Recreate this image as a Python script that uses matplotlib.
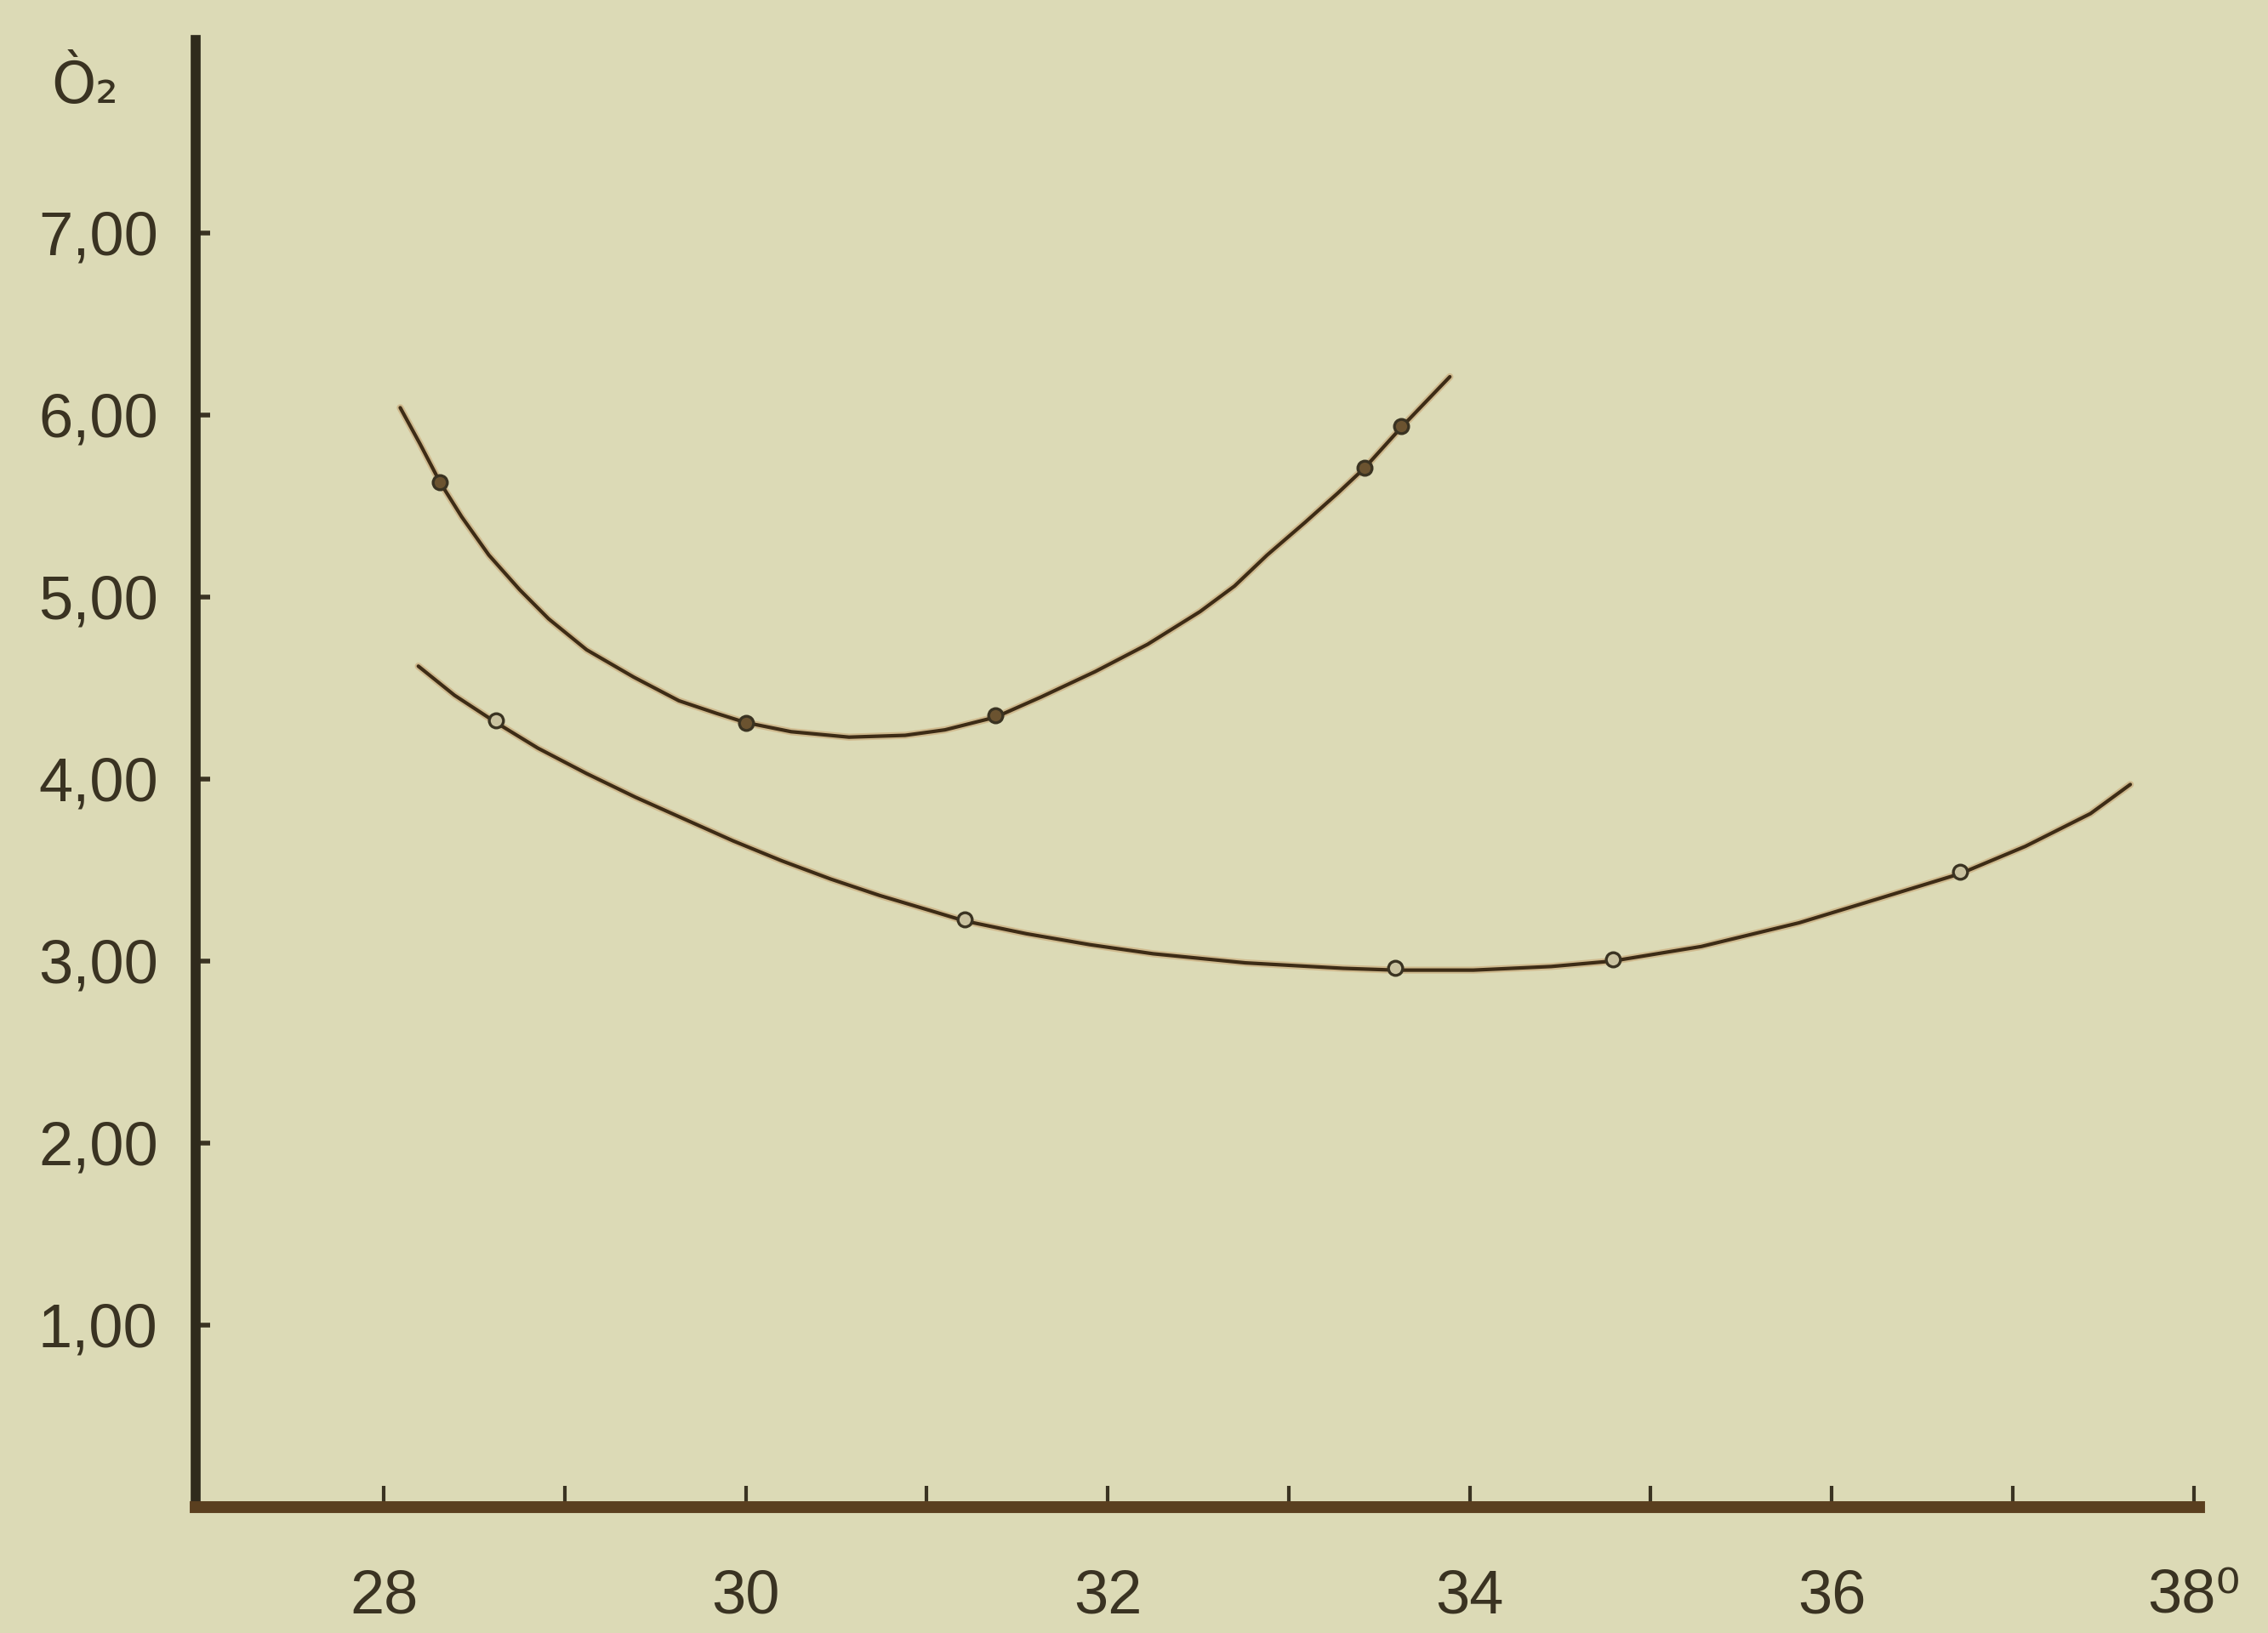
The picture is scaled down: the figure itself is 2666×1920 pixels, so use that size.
import matplotlib
matplotlib.use("Agg")
import matplotlib.pyplot as plt

# temperature (deg) vs O2, two hand-drawn curves
upper_curve_x = [28.09, 28.20, 28.31, 28.43, 28.58, 28.75, 28.91, 29.12, 29.38,
                 29.63, 29.84, 30.00, 30.25, 30.57, 30.88, 31.10, 31.38, 31.63,
                 31.93, 32.22, 32.51, 32.70, 32.88, 33.09, 33.27, 33.42, 33.62, 33.89]
upper_curve_y = [6.04, 5.84, 5.63, 5.44, 5.23, 5.04, 4.88, 4.71, 4.56,
                 4.43, 4.36, 4.31, 4.26, 4.23, 4.24, 4.27, 4.34, 4.45,
                 4.59, 4.74, 4.92, 5.06, 5.23, 5.41, 5.57, 5.71, 5.93, 6.21]
upper_pts_x = [28.31, 30.00, 31.38, 33.42, 33.62]
upper_pts_y = [5.63, 4.31, 4.35, 5.71, 5.94]

lower_curve_x = [28.19, 28.39, 28.62, 28.85, 29.12, 29.39, 29.66, 29.93, 30.20,
                 30.47, 30.74, 31.01, 31.21, 31.55, 31.90, 32.25, 32.76, 33.30,
                 33.59, 34.02, 34.45, 34.79, 35.28, 35.82, 36.25, 36.71, 37.07,
                 37.43, 37.65]
lower_curve_y = [4.62, 4.46, 4.31, 4.17, 4.03, 3.90, 3.78, 3.66, 3.55,
                 3.45, 3.36, 3.28, 3.22, 3.15, 3.09, 3.04, 2.99, 2.96,
                 2.95, 2.95, 2.97, 3.00, 3.08, 3.21, 3.34, 3.48, 3.63,
                 3.81, 3.97]
lower_pts_x = [28.62, 31.21, 33.59, 34.79, 36.71]
lower_pts_y = [4.32, 3.23, 2.96, 3.01, 3.49]

y_ticks = [1, 2, 3, 4, 5, 6, 7]
y_labels = ["1,00", "2,00", "3,00", "4,00", "5,00", "6,00", "7,00"]
x_major = [28, 30, 32, 34, 36, 38]
x_labels = ["28", "30", "32", "34", "36", "38⁰"]
x_minor = [29, 31, 33, 35, 37]

bg = "#dcdab6"
ink = "#3a3322"
line_col = "#3d2c16"

plt.rcParams["font.family"] = ["Liberation Sans", "DejaVu Sans"]

fig = plt.figure(figsize=(13.33, 9.6), dpi=200, facecolor=bg)
ax = fig.add_axes([0.0863, 0.0771, 0.9696 - 0.0863, 0.9755 - 0.0771])
ax.set_facecolor(bg)

for cx, cy in [(upper_curve_x, upper_curve_y), (lower_curve_x, lower_curve_y)]:
    ax.plot(cx, cy, color="#c0935e", lw=3.0, alpha=0.45,
            solid_capstyle="round", solid_joinstyle="round")
    ax.plot(cx, cy, color=line_col, lw=1.5,
            solid_capstyle="round", solid_joinstyle="round")

ax.plot(upper_pts_x, upper_pts_y, "o", ms=6, mfc="#6b5330", mec=ink, mew=1.2)
ax.plot(lower_pts_x, lower_pts_y, "o", ms=6, mfc="#c9c2a0", mec=ink, mew=1.2)

ax.set_xlim(26.96, 38.03)
ax.set_ylim(0, 8.06)

for s in ["top", "right"]:
    ax.spines[s].set_visible(False)
ax.spines["left"].set_linewidth(4.2)
ax.spines["left"].set_color("#2f2a1c")
ax.spines["bottom"].set_linewidth(5)
ax.spines["bottom"].set_color("#5a3f1f")

ax.set_yticks(y_ticks)
ax.set_yticklabels(y_labels)
ax.set_xticks(x_major)
ax.set_xticklabels(x_labels)
ax.set_xticks(x_minor, minor=True)

ax.tick_params(axis="y", direction="in", length=6, width=2, color=ink,
               pad=16, labelsize=26, labelcolor=ink)
ax.tick_params(axis="x", which="both", direction="in", length=9, width=1.5,
               color=ink, pad=26, labelsize=26, labelcolor=ink)

fig.text(100 / 2666, 1 - 102 / 1920, "Ò₂", fontsize=24, color=ink,
         ha="center", va="center", family=["DejaVu Sans"])

fig.savefig("out.png", dpi=200, facecolor=bg)
